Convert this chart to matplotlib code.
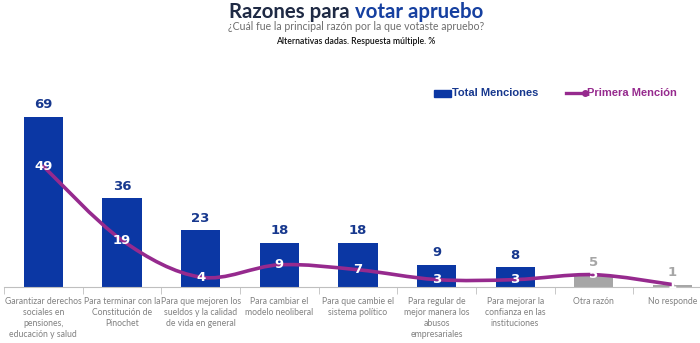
import numpy as np
import matplotlib
matplotlib.use("Agg")
from matplotlib import pyplot as plt
from matplotlib.path import Path
from matplotlib.patches import PathPatch, Rectangle
from matplotlib.lines import Line2D

# data
categories = [
    "Garantizar derechos\nsociales en\npensiones,\neducación y salud",
    "Para terminar con la\nConstitución de\nPinochet",
    "Para que mejoren los\nsueldos y la calidad\nde vida en general",
    "Para cambiar el\nmodelo neoliberal",
    "Para que cambie el\nsistema político",
    "Para regular de\nmejor manera los\nabusos\nempresariales",
    "Para mejorar la\nconfianza en las\ninstituciones",
    "Otra razón",
    "No responde",
]
total_menciones = [69, 36, 23, 18, 18, 9, 8, 5, 1]
primera_mencion = [49, 19, 4, 9, 7, 3, 3, 5, 1]
gray_from = 7  # "Otra razón" and "No responde" are drawn gray

BLUE = "#0B37A4"
LABEL_BLUE = "#17388E"
GRAY = "#A6A6A6"
PURPLE = "#962A8E"

fig = plt.figure(figsize=(7, 3.43), dpi=100)
ax = fig.add_axes([4 / 700, (343 - 287) / 343, 696 / 700, 207 / 343])

x = np.arange(len(categories))
colors = [BLUE if i < gray_from else GRAY for i in x]
ax.bar(x, total_menciones, width=0.5, color=colors, zorder=2)

# smoothed line (catmull-rom as bezier segments through the points)
pts = np.column_stack([x, primera_mencion]).astype(float)
ext = np.vstack([pts[0], pts, pts[-1]])
verts = [tuple(pts[0])]
codes = [Path.MOVETO]
for i in range(len(pts) - 1):
    p0, p1, p2, p3 = ext[i], ext[i + 1], ext[i + 2], ext[i + 3]
    c1 = p1 + (p2 - p0) / 6
    c2 = p2 - (p3 - p1) / 6
    verts += [tuple(c1), tuple(c2), tuple(p2)]
    codes += [Path.CURVE4] * 3
ax.add_patch(PathPatch(Path(verts, codes), facecolor="none", edgecolor=PURPLE,
                       lw=2.6, zorder=3, capstyle="round"))

# value labels
for i, v in enumerate(total_menciones):
    c = LABEL_BLUE if i < gray_from else GRAY
    ax.annotate(str(v), (i, v), xytext=(0, 4), textcoords="offset points",
                ha="center", va="bottom", fontsize=9.5, fontweight="bold", color=c,
                family="DejaVu Sans")
for i, v in enumerate(primera_mencion):
    ax.text(i, v, str(v), ha="center", va="center", fontsize=9.5, fontweight="bold",
            color="white", zorder=4, family="DejaVu Sans")

ax.set_xlim(-0.5, 8.35)
ax.set_ylim(0, 84)
for s in ["top", "right", "left"]:
    ax.spines[s].set_visible(False)
ax.spines["bottom"].set_color("#BFBFBF")
ax.set_yticks([])
ax.set_xticks(x)
ax.set_xticklabels(categories, fontsize=6.2, color="#808080", family="Lato",
                   linespacing=1.3, va="top")
ax.tick_params(axis="x", length=0, pad=7)
ax.set_xticks(np.r_[-0.5, x[:-1] + 0.5], minor=True)
ax.tick_params(axis="x", which="minor", length=5, color="#BFBFBF", direction="out")

# titles
fig.text(355 / 700, 1 - 12 / 343, "Razones para ", ha="right", va="center",
         fontsize=14.7, fontweight="bold", color="#1F2A44", family="Lato")
fig.text(355 / 700, 1 - 12 / 343, "votar apruebo", ha="left", va="center",
         fontsize=14.7, fontweight="bold", color="#1640A0", family="Lato")
fig.text(356 / 700, 1 - 27 / 343, "¿Cuál fue la principal razón por la que votaste apruebo?",
         ha="center", va="center", fontsize=7.6, color="#6E6E6E", family="Lato")
fig.text(356 / 700, 1 - 41 / 343, "Alternativas dadas. Respuesta múltiple. %",
         ha="center", va="center", fontsize=6.2, fontweight="semibold",
         color="#111111", family="Lato")

# legend
fig.patches.append(Rectangle((434 / 700, 1 - 97 / 343), 17 / 700, 7 / 343,
                             transform=fig.transFigure, color=BLUE))
fig.text(452 / 700, 1 - 93 / 343, "Total Menciones", ha="left", va="center",
         fontsize=8, fontweight="bold", color=LABEL_BLUE, family="Liberation Sans")
fig.lines.append(Line2D([566 / 700, 585 / 700], [1 - 93 / 343] * 2,
                        transform=fig.transFigure, color=PURPLE, lw=2.4,
                        marker="o", markersize=4, markevery=[1]))
fig.text(587 / 700, 1 - 93 / 343, "Primera Mención", ha="left", va="center",
         fontsize=8, fontweight="bold", color=PURPLE, family="Liberation Sans")

fig.savefig("out.png", dpi=100)
